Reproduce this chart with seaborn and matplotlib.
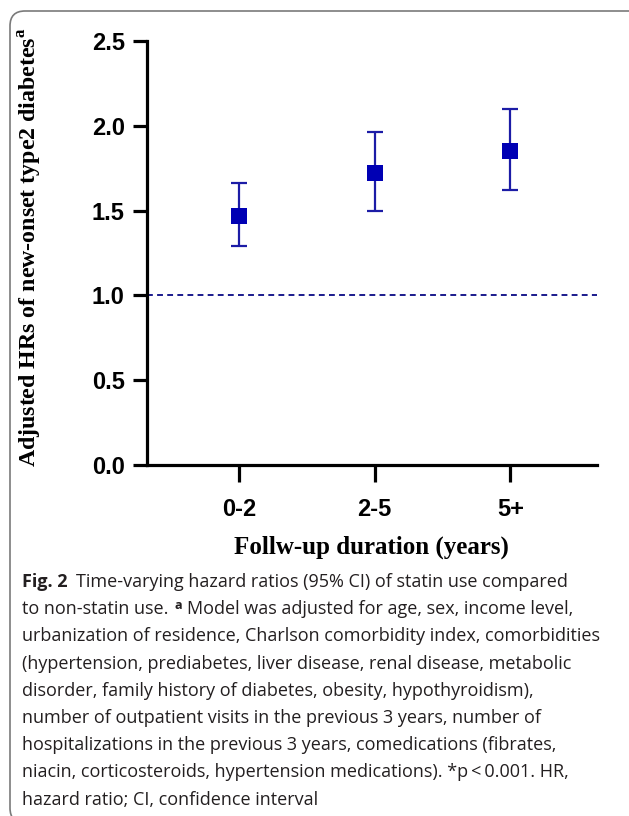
import matplotlib
matplotlib.use('Agg')
import matplotlib.pyplot as plt
from matplotlib.patches import PathPatch
from matplotlib.path import Path
from matplotlib.transforms import IdentityTransform
import numpy as np
import pandas as pd
import seaborn as sns

durations = ['0-2', '2-5', '5+']
hr = [1.47, 1.72, 1.85]
ci_low = [1.29, 1.50, 1.62]
ci_high = [1.665, 1.965, 2.10]
y_ticks = [0.0, 0.5, 1.0, 1.5, 2.0, 2.5]
reference_hr = 1.0

caption_lines = [
    'to non-statin use.',
    'urbanization of residence, Charlson comorbidity index, comorbidities',
    '(hypertension, prediabetes, liver disease, renal disease, metabolic',
    'disorder, family history of diabetes, obesity, hypothyroidism),',
    'number of outpatient visits in the previous 3 years, number of',
    'hospitalizations in the previous 3 years, comedications (fibrates,',
    'niacin, corticosteroids, hypertension medications). *p\u2009<\u20090.001. HR,',
    'hazard ratio; CI, confidence interval',
]

sns.set_style('white')
plt.rcParams['text.color'] = 'black'
plt.rcParams['xtick.color'] = 'black'
plt.rcParams['ytick.color'] = 'black'
plt.rcParams['mathtext.fontset'] = 'custom'
plt.rcParams['mathtext.rm'] = 'Liberation Serif'
plt.rcParams['mathtext.bf'] = 'Liberation Serif:bold'

W, H = 629, 816
fig = plt.figure(figsize=(W / 100, H / 100), dpi=100)
ax = fig.add_axes([147 / W, 1 - 465 / H, 450 / W, 424 / H])

mark_col = '#0000b4'
bar_col = '#1c1ca6'

df = pd.DataFrame({'duration': durations, 'hr': hr, 'lo': ci_low, 'hi': ci_high})
ax.errorbar(np.arange(len(df)), df['hr'],
            yerr=[df['hr'] - df['lo'], df['hi'] - df['hr']],
            fmt='none', ecolor=bar_col, elinewidth=1.6, capsize=5.8,
            capthick=1.6, zorder=2)
sns.scatterplot(data=df, x='duration', y='hr', marker='s', s=145,
                color=mark_col, edgecolor=mark_col, linewidth=0, ax=ax,
                zorder=3)
ax.axhline(reference_hr, color='#1a1a8c', lw=1.4, ls=(0, (3, 2.2)), zorder=1)

ax.set_xlim(-0.68, 2.64)
ax.set_ylim(0, 2.5)
ax.set_yticks(y_ticks)
ax.set_yticklabels([f'{v:.1f}' for v in y_ticks])
ax.set_xticks(range(len(durations)))
ax.set_xticklabels(durations)
ax.set_xlabel('')
ax.set_ylabel('')
sns.despine(ax=ax)
for s in ['left', 'bottom']:
    ax.spines[s].set_linewidth(2.3)
    ax.spines[s].set_color('black')
ax.tick_params(axis='y', length=10, width=2.3, pad=6, labelsize=17,
               direction='out', left=True)
ax.tick_params(axis='x', length=12, width=2.3, pad=12, labelsize=17,
               direction='out', bottom=True)
for lab in ax.get_xticklabels() + ax.get_yticklabels():
    lab.set_fontfamily('Liberation Sans')
    lab.set_fontweight('bold')

fig.text(30 / W, 1 - 247 / H,
         r'Adjusted HRs of new-onset type2 diabetes$^{\mathbf{a}}$',
         rotation=90, ha='center', va='center', family='Liberation Serif',
         weight='bold', fontsize=17.2)
fig.text(371 / W, 1 - 547 / H, 'Follw-up duration (years)', ha='center',
         va='center', family='Liberation Serif', weight='bold', fontsize=18)

# caption
cap_font = ['Open Sans', 'DejaVu Sans']
cap_size = 13
cap_col = '#231f20'
x0 = 22 / W
y_first = 582
step = 27.2
t = fig.text(x0, 1 - y_first / H, 'Fig. 2', family=cap_font, weight='bold',
             fontsize=cap_size, va='center', color=cap_col)
ax.annotate('Time-varying hazard ratios (95% CI) of statin use compared',
            xy=(1, 0.5), xycoords=t, xytext=(6, 0), textcoords='offset points',
            va='center', family=cap_font, fontsize=cap_size, color=cap_col,
            annotation_clip=False)
for i, line in enumerate(caption_lines):
    tt = fig.text(x0, 1 - (y_first + step * (i + 1)) / H, line, family=cap_font,
                  fontsize=cap_size, va='center', color=cap_col)
    if i == 0:
        sup = ax.annotate('a', xy=(1, 0.5), xycoords=tt, xytext=(4, 3),
                          textcoords='offset points', va='center', color=cap_col,
                          family=cap_font, weight='bold', fontsize=cap_size * 0.7,
                          annotation_clip=False)
        ax.annotate('Model was adjusted for age, sex, income level,',
                    xy=(1, 0.5), xycoords=sup, xytext=(4, -3),
                    textcoords='offset points', va='center', family=cap_font,
                    fontsize=cap_size, color=cap_col, annotation_clip=False)

# rounded panel border (open on the right, cut by the page)
r = 15
left, top, bottom = 10, H - 11, H - 823
verts = [(W + 20, bottom), (left + r, bottom), (left, bottom), (left, bottom + r),
         (left, top - r), (left, top), (left + r, top), (W + 20, top)]
codes = [Path.MOVETO, Path.LINETO, Path.CURVE3, Path.CURVE3,
         Path.LINETO, Path.CURVE3, Path.CURVE3, Path.LINETO]
frame = PathPatch(Path(verts, codes), transform=IdentityTransform(), fill=False,
                  edgecolor='#7a7a7a', lw=1.2)
fig.patches.append(frame)

fig.savefig('out.png', dpi=100)
